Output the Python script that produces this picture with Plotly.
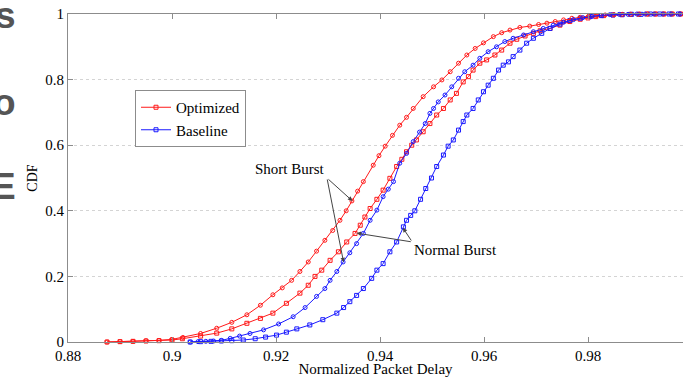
import plotly.graph_objects as go

# ---- data ----
opt_short_x = [0.8875,0.890,0.8925,0.895,0.8975,0.900,0.9021,0.9055,0.9086,0.9115,0.9144,0.9170,0.9194,0.9212,0.9230,0.9246,0.9262,0.9278,0.9294,0.9309,0.9323,0.9335,0.9346,0.9357,0.9368,0.9387,0.9398,0.9410,0.9424,0.9438,0.9451,0.9464,0.9483,0.9503,0.9519,0.9535,0.9551,0.9567,0.9583,0.9599,0.9618,0.9634,0.9650,0.9669,0.9688,0.9705,0.9721,0.9737,0.9753,0.9769,0.9785,0.9801,0.9817,0.9833,0.985,0.9866,0.9882,0.9898,0.9914,0.993,0.9946,0.9962,0.9978]
opt_short_y = [0.000,0.001,0.002,0.004,0.005,0.008,0.014,0.026,0.042,0.060,0.083,0.112,0.144,0.165,0.188,0.215,0.244,0.277,0.310,0.340,0.371,0.400,0.430,0.460,0.489,0.539,0.568,0.597,0.630,0.661,0.685,0.712,0.748,0.778,0.799,0.824,0.850,0.875,0.895,0.912,0.931,0.943,0.951,0.959,0.963,0.968,0.972,0.977,0.982,0.987,0.990,0.993,0.995,0.997,0.998,0.999,0.999,1.0,1.0,1.0,1.0,1.0,1.0]

opt_normal_x = [0.8875,0.890,0.8925,0.895,0.8975,0.900,0.902,0.9055,0.9086,0.9115,0.9144,0.9170,0.9194,0.9220,0.9246,0.9262,0.9275,0.9288,0.9304,0.9320,0.9336,0.9352,0.9362,0.9371,0.9381,0.9394,0.9406,0.9419,0.9432,0.9442,0.9451,0.9461,0.9470,0.9483,0.9496,0.9509,0.9522,0.9535,0.9547,0.9560,0.9570,0.9579,0.9592,0.9605,0.9621,0.9634,0.9650,0.9663,0.9679,0.9695,0.9708,0.9727,0.9746,0.9765,0.9785,0.9800,0.9815,0.9830,0.9848,0.9865,0.9882,0.9898,0.9914,0.993,0.9946,0.9962,0.9978]
opt_normal_y = [0.000,0.001,0.002,0.003,0.004,0.006,0.010,0.018,0.027,0.040,0.057,0.072,0.088,0.118,0.149,0.173,0.200,0.219,0.249,0.275,0.305,0.331,0.356,0.381,0.407,0.435,0.463,0.499,0.535,0.557,0.580,0.600,0.616,0.641,0.666,0.692,0.712,0.738,0.758,0.793,0.809,0.829,0.850,0.860,0.875,0.890,0.911,0.923,0.933,0.941,0.949,0.956,0.966,0.977,0.984,0.988,0.992,0.995,0.997,0.998,0.999,0.999,1.0,1.0,1.0,1.0,1.0]

base_short_x = [0.9035,0.905,0.9065,0.908,0.9095,0.9112,0.9130,0.9150,0.9176,0.9205,0.9233,0.9256,0.9278,0.9294,0.9304,0.9317,0.9329,0.9342,0.9355,0.9368,0.9381,0.9394,0.9406,0.9416,0.9426,0.9438,0.9451,0.9464,0.9476,0.9487,0.9496,0.9503,0.9512,0.9525,0.9538,0.9551,0.9563,0.9579,0.9592,0.9608,0.9624,0.9640,0.9656,0.9676,0.9695,0.9714,0.9733,0.9753,0.9772,0.9790,0.9808,0.9825,0.9842,0.986,0.9877,0.9894,0.991,0.9927,0.9944,0.996,0.9977]
base_short_y = [0.000,0.001,0.002,0.003,0.005,0.011,0.018,0.026,0.037,0.055,0.077,0.105,0.139,0.163,0.188,0.215,0.244,0.272,0.300,0.331,0.371,0.402,0.443,0.466,0.489,0.545,0.575,0.611,0.640,0.666,0.697,0.712,0.732,0.753,0.778,0.804,0.824,0.844,0.865,0.885,0.900,0.916,0.926,0.936,0.946,0.956,0.966,0.975,0.983,0.989,0.993,0.996,0.998,0.999,0.999,1.0,1.0,1.0,1.0,1.0,1.0]

base_normal_x = [0.9035,0.9055,0.9075,0.9095,0.9115,0.9137,0.9160,0.9180,0.9201,0.9220,0.9240,0.9265,0.9290,0.9317,0.9330,0.9342,0.9355,0.9368,0.9384,0.9394,0.9406,0.9419,0.9432,0.9445,0.9451,0.9459,0.9467,0.9478,0.9488,0.9499,0.9509,0.9522,0.9531,0.9541,0.9551,0.9560,0.9567,0.9579,0.9589,0.9599,0.9608,0.9618,0.9628,0.9637,0.9647,0.9656,0.9669,0.9682,0.9695,0.9711,0.9727,0.9746,0.9765,0.9785,0.9804,0.9826,0.9848,0.9866,0.9884,0.9902,0.992,0.9938,0.9956,0.9974]
base_normal_y = [0.000,0.001,0.002,0.003,0.004,0.006,0.010,0.015,0.021,0.030,0.040,0.052,0.068,0.088,0.105,0.123,0.142,0.163,0.194,0.219,0.239,0.275,0.305,0.351,0.371,0.386,0.400,0.435,0.468,0.500,0.535,0.570,0.597,0.616,0.646,0.672,0.692,0.712,0.738,0.763,0.783,0.804,0.829,0.844,0.854,0.870,0.890,0.911,0.926,0.941,0.956,0.969,0.980,0.987,0.992,0.995,0.997,0.998,0.999,0.999,1.0,1.0,1.0,1.0]

for a, b in [(opt_short_x, opt_short_y), (opt_normal_x, opt_normal_y),
             (base_short_x, base_short_y), (base_normal_x, base_normal_y)]:
    assert len(a) == len(b), (len(a), len(b))

x_ticks = [0.88, 0.90, 0.92, 0.94, 0.96, 0.98]
x_tick_labels = ["0.88", "0.9", "0.92", "0.94", "0.96", "0.98"]
y_ticks = [0, 0.2, 0.4, 0.6, 0.8, 1]
y_tick_labels = ["0", "0.2", "0.4", "0.6", "0.8", "1"]

RED = "#ff1a1a"
BLUE = "#1a1aff"
SERIF = "Liberation Serif, Times New Roman, serif"

fig = go.Figure()

def add(x, y, color, symbol, name, show):
    fig.add_trace(go.Scatter(
        x=x, y=y, mode="lines+markers", name=name, showlegend=show,
        line=dict(color=color, width=1),
        marker=dict(symbol=symbol, size=4, color=color, line=dict(color=color, width=1)),
        cliponaxis=False,
    ))

add(opt_normal_x, opt_normal_y, RED, "square-open", "Optimized", True)
add(base_normal_x, base_normal_y, BLUE, "square-open", "Baseline", True)
add(opt_short_x, opt_short_y, RED, "circle-open", "Optimized (short)", False)
add(base_short_x, base_short_y, BLUE, "circle-open", "Baseline (short)", False)

x_right = 0.88 + 615 / 5200.0

fig.update_xaxes(
    range=[0.88, x_right], tickvals=x_ticks, ticktext=x_tick_labels,
    showgrid=False, zeroline=False, showline=True, linecolor="#8c8c8c", linewidth=1,
    mirror="ticks", ticks="inside", ticklen=5, tickcolor="#8c8c8c",
    tickfont=dict(family=SERIF, size=15, color="#000"),
    title=dict(text="Normalized Packet Delay", font=dict(family=SERIF, size=15, color="#000"), standoff=2),
)
fig.update_yaxes(
    range=[0, 1], tickvals=y_ticks, ticktext=y_tick_labels,
    showgrid=True, gridcolor="#d4d4d4", griddash="dot", gridwidth=1,
    zeroline=False, showline=True, linecolor="#8c8c8c", linewidth=1,
    ticks="inside", ticklen=5, tickcolor="#8c8c8c",
    tickfont=dict(family=SERIF, size=15, color="#000"),
    title=dict(text="CDF", font=dict(family=SERIF, size=14, color="#000"), standoff=4),
)

ann = []
# arrows (tail -> head in data coordinates)
arrow_pairs = [
    ((0.9298, 0.500), (0.9347, 0.430)),
    ((0.9298, 0.500), (0.9330, 0.243)),
    ((0.9462, 0.305), (0.9355, 0.332)),
    ((0.9462, 0.305), (0.9444, 0.348)),
]
for (tx, ty), (hx, hy) in arrow_pairs:
    ann.append(dict(x=hx, y=hy, ax=tx, ay=ty, xref="x", yref="y", axref="x", ayref="y",
                    text="", showarrow=True, arrowhead=2, arrowsize=0.9, arrowwidth=1,
                    arrowcolor="#444", standoff=0, startstandoff=0))
ann.append(dict(x=0.9227, y=0.527, xref="x", yref="y", text="Short Burst", showarrow=False,
                font=dict(family=SERIF, size=15, color="#000")))
ann.append(dict(x=0.9546, y=0.280, xref="x", yref="y", text="Normal Burst", showarrow=False,
                font=dict(family=SERIF, size=15, color="#000")))

# cropped slide text at the far left
for txt, py in [("s", 15), ("o", 102), ("E", 186)]:
    ann.append(dict(x=(18 - 68) / 615.0, y=(342 - py) / 328.0, xref="paper", yref="paper",
                    xanchor="right", yanchor="middle", text=txt, showarrow=False,
                    font=dict(family="Liberation Sans", size=37, color="#555555", weight="bold")))

fig.update_layout(
    width=683, height=377,
    margin=dict(l=68, r=0, t=14, b=35),
    paper_bgcolor="white", plot_bgcolor="white",
    font=dict(family=SERIF, color="#000"),
    annotations=ann,
    legend=dict(x=(135 - 68) / 615.0, y=(342 - 90) / 328.0, xanchor="left", yanchor="top",
                bgcolor="white", bordercolor="#8c8c8c", borderwidth=1,
                font=dict(family=SERIF, size=15, color="#000"), itemwidth=30, tracegroupgap=0),
)

fig.write_html("out.html", config={"displayModeBar": False},
               post_script="document.body.style.margin='0';document.body.style.padding='0';")
